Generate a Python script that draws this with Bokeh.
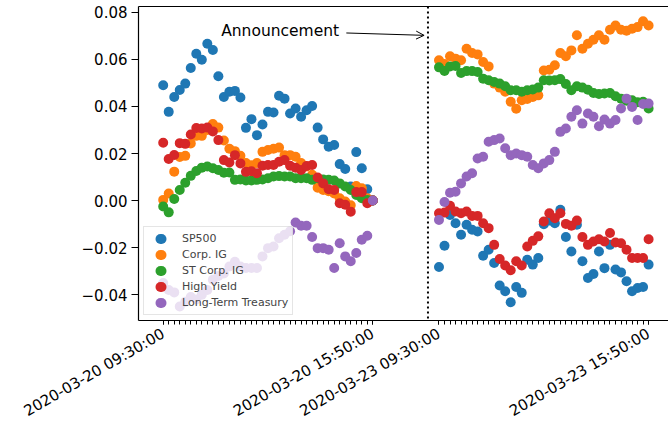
import math
from bokeh.plotting import figure
from bokeh.models import (Range1d, FixedTicker, LinearAxis, Legend, LegendItem, Span,
                          Arrow, OpenHead, Label, CustomJSTickFormatter)
from bokeh.embed import file_html
from bokeh.resources import INLINE

# ---------------- data ----------------
# 10-minute slots 09:30 ... 15:50 on each trading day (39 per day);
# day 2 is placed after a gap on the index axis
day1_pos = list(range(0, 39))
day2_pos = list(range(50, 89))
x_pos = day1_pos + day2_pos

tick_pos = [0, 38, 50, 88]
tick_labels = ["2020-03-20 09:30:00", "2020-03-20 15:50:00",
               "2020-03-23 09:30:00", "2020-03-23 15:50:00"]
y_ticks = [-0.04, -0.02, 0.0, 0.02, 0.04, 0.06, 0.08]
announcement_pos = 48

series_names = ["SP500", "Corp. IG", "ST Corp. IG", "High Yield", "Long-Term Treasury"]
series_colors = ["#1f77b4", "#ff7f0e", "#2ca02c", "#d62728", "#9467bd"]

sp500_day1 = [0.049, 0.0377, 0.044, 0.047, 0.0497, 0.0563, 0.0624, 0.0598, 0.0666, 0.064,
              0.0528, 0.044, 0.0462, 0.0466, 0.0438, 0.0309, 0.0346, 0.0278, 0.0323, 0.0377,
              0.0374, 0.0445, 0.0433, 0.037, 0.0391, 0.0356, 0.0384, 0.0402, 0.031, 0.026,
              0.0229, 0.0236, 0.0155, 0.0134, 0.006, 0.0206, 0.0137, 0.0048, 0.0]
sp500_day2 = [-0.0282, -0.0192, -0.0061, -0.0096, -0.0145, -0.0103, -0.0124, -0.0131, -0.0234, -0.0209,
              -0.0265, -0.0361, -0.0385, -0.0432, -0.0367, -0.0392, -0.0251, -0.0272, -0.0244, -0.010,
              -0.0085, -0.0096, -0.0039, -0.0155, -0.0216, -0.0103, -0.0258, -0.0329, -0.0312, -0.0216,
              -0.0287, -0.0188, -0.0293, -0.0305, -0.0343, -0.0385, -0.0371, -0.0367, -0.0272]

corp_ig_day1 = [0.0003, 0.003, 0.0123, 0.0185, 0.019, 0.0243, 0.0275, 0.0275, 0.030, 0.0325,
                0.031, 0.0255, 0.022, 0.021, 0.019, 0.016, 0.015, 0.016, 0.0207, 0.0215,
                0.022, 0.0225, 0.0193, 0.0193, 0.0186, 0.016, 0.0145, 0.011, 0.0055, 0.0045,
                0.004, 0.003, 0.001, -0.0004, -0.002, 0.0062, 0.0052, 0.001, 0.0]
corp_ig_day2 = [0.0596, 0.058, 0.0613, 0.0603, 0.0596, 0.0645, 0.0627, 0.0621, 0.0589, 0.057,
                0.0497, 0.048, 0.0462, 0.042, 0.039, 0.0426, 0.0432, 0.044, 0.0447, 0.0553,
                0.0556, 0.0575, 0.0627, 0.0613, 0.0638, 0.0702, 0.0645, 0.0666, 0.0683, 0.0702,
                0.0683, 0.0726, 0.0744, 0.0726, 0.0722, 0.073, 0.0737, 0.0762, 0.0744]

st_corp_ig_day1 = [-0.0025, -0.005, 0.0007, 0.0045, 0.0076, 0.0105, 0.0126, 0.014, 0.0145, 0.0137,
                   0.013, 0.0118, 0.0119, 0.0088, 0.009, 0.0085, 0.0085, 0.0088, 0.009, 0.0095,
                   0.0102, 0.0104, 0.0102, 0.0102, 0.0095, 0.0095, 0.0095, 0.0088, 0.0095, 0.009,
                   0.0088, 0.0085, 0.0073, 0.006, 0.0045, 0.0024, 0.001, 0.0003, 0.0]
st_corp_ig_day2 = [0.0566, 0.0551, 0.057, 0.0572, 0.0542, 0.055, 0.055, 0.0546, 0.0518, 0.0511,
                   0.0504, 0.0497, 0.0486, 0.0469, 0.0469, 0.0462, 0.0469, 0.0472, 0.048, 0.0511,
                   0.051, 0.0511, 0.0516, 0.0495, 0.0469, 0.0486, 0.048, 0.0471, 0.0457, 0.0453,
                   0.0455, 0.0457, 0.0443, 0.0433, 0.0424, 0.0426, 0.0418, 0.042, 0.0391]

high_yield_day1 = [0.0246, 0.0177, 0.0194, 0.0244, 0.0241, 0.0281, 0.0308, 0.0306, 0.031, 0.0294,
                   0.0257, 0.0172, 0.0162, 0.0193, 0.0158, 0.0122, 0.0125, 0.0116, 0.0148, 0.0151,
                   0.0151, 0.0165, 0.0172, 0.0148, 0.014, 0.013, 0.0147, 0.0151, 0.0098, 0.0073,
                   0.0048, 0.0045, -0.0011, -0.0018, -0.0047, 0.0036, 0.0036, -0.0011, 0.0]
high_yield_day2 = [-0.0054, -0.0051, -0.0022, -0.0046, -0.0054, -0.0046, -0.0065, -0.0065, -0.0096, -0.0117,
                   -0.0188, -0.0248, -0.0276, -0.0296, -0.0258, -0.0276, -0.0195, -0.0171, -0.0152, -0.0089,
                   -0.0054, -0.0075, -0.0054, -0.0099, -0.0107, -0.0085, -0.0155, -0.0188, -0.0174, -0.0164,
                   -0.0174, -0.0138, -0.0178, -0.0181, -0.0209, -0.0244, -0.0244, -0.0244, -0.0164]

lt_treasury_day1 = [-0.035, -0.038, -0.039, -0.045, -0.043, -0.041, -0.042, -0.040, -0.038, -0.0336,
                    -0.032, -0.031, -0.028, -0.026, -0.028, -0.0286, -0.0286, -0.0286, -0.0237, -0.0202,
                    -0.0195, -0.016, -0.0145, -0.013, -0.0093, -0.0107, -0.0107, -0.0155, -0.0202, -0.0202,
                    -0.0209, -0.0286, -0.0181, -0.0237, -0.0258, -0.0223, -0.0166, -0.0149, 0.0]
lt_treasury_day2 = [-0.0082, -0.0006, 0.0033, 0.0038, 0.0073, 0.0102, 0.0116, 0.0179, 0.0186, 0.025,
                    0.0257, 0.0264, 0.0222, 0.0193, 0.02, 0.0193, 0.0186, 0.0151, 0.0137, 0.0158,
                    0.0172, 0.0207, 0.0292, 0.0306, 0.0356, 0.0384, 0.0327, 0.037, 0.0356, 0.0316,
                    0.0344, 0.0327, 0.0342, 0.0391, 0.0433, 0.0398, 0.0342, 0.041, 0.0412]

series_values = [sp500_day1 + sp500_day2,
                 corp_ig_day1 + corp_ig_day2,
                 st_corp_ig_day1 + st_corp_ig_day2,
                 high_yield_day1 + high_yield_day2,
                 lt_treasury_day1 + lt_treasury_day2]

# annotation placement (data coordinates)
ann_text = "Announcement"
ann_text_x, ann_text_y = 31.9, 0.0722
ann_arrow_start = (33.2, 0.0712)
ann_arrow_end = (47.3, 0.0702)

FONT = "DejaVu Sans"

# ---------------- figure ----------------
p = figure(width=668, height=431, output_backend="svg", toolbar_location=None,
           x_range=Range1d(-4.478, 91.607), y_range=Range1d(-0.05094, 0.08245),
           min_border_left=138, min_border_right=0, min_border_top=6, min_border_bottom=111)
p.grid.visible = False
p.outline_line_color = None
p.background_fill_color = "white"
p.border_fill_color = "white"
# off-screen range used only by the legend swatch renderers
p.extra_y_ranges = {"swatch": Range1d(10.0, 11.0)}

xa = p.xaxis[0]
xa.ticker = FixedTicker(ticks=tick_pos, minor_ticks=x_pos)
xa.major_label_overrides = {t: l for t, l in zip(tick_pos, tick_labels)}
xa.major_label_orientation = math.pi / 6
xa.major_tick_out = 4
xa.major_tick_in = 0
xa.minor_tick_out = 4
xa.minor_tick_in = 0
xa.major_label_standoff = 8
xa.major_label_text_font = FONT
xa.major_label_text_font_size = "15px"
xa.major_label_text_color = "black"
xa.axis_line_color = "black"
xa.axis_line_width = 1.2
xa.major_tick_line_color = "black"
xa.minor_tick_line_color = "black"

ya = p.yaxis[0]
ya.ticker = FixedTicker(ticks=y_ticks)
ya.formatter = CustomJSTickFormatter(code="""
    const s = Math.abs(tick).toFixed(2);
    return tick < -1e-12 ? "\u2212" + s : s;
""")
ya.major_tick_out = 7
ya.major_tick_in = 0
ya.minor_tick_out = 0
ya.minor_tick_in = 0
ya.major_label_standoff = 4
ya.major_label_text_font = FONT
ya.major_label_text_font_size = "15px"
ya.major_label_text_color = "black"
ya.axis_line_color = "black"
ya.axis_line_width = 1.2
ya.major_tick_line_color = "black"

top_axis = LinearAxis(ticker=FixedTicker(ticks=[]), major_tick_out=0, major_tick_in=0,
                      minor_tick_out=0, minor_tick_in=0, axis_line_color="black",
                      axis_line_width=1.2, major_label_text_font_size="0px")
p.add_layout(top_axis, "above")

items = []
for name, color, vals in zip(series_names, series_colors, series_values):
    r = p.scatter(x_pos, vals, size=10, fill_color=color, line_color=None)
    # legend-only swatch (drawn on an off-screen range): a short round-capped dash = 10 px dot
    swatch = p.line(x_pos, vals, y_range_name="swatch", line_color=color, line_width=10,
                    line_cap="round", line_dash="1 200", line_dash_offset=-12)
    items.append(LegendItem(label=name, renderers=[r, swatch]))

p.add_layout(Span(location=announcement_pos, dimension="height", line_color="black",
                  line_width=2, line_dash="2 3"))

p.add_layout(Arrow(x_start=ann_arrow_start[0], y_start=ann_arrow_start[1],
                   x_end=ann_arrow_end[0], y_end=ann_arrow_end[1],
                   line_color="black", line_width=1,
                   end=OpenHead(size=8, line_color="black", line_width=1)))
p.add_layout(Label(x=ann_text_x, y=ann_text_y, text=ann_text, text_align="right",
                   text_baseline="middle", text_font=FONT, text_font_size="15.5px",
                   text_color="black"))

legend = Legend(items=items, location="bottom_left", margin=5, padding=4,
                glyph_height=15, glyph_width=26, label_height=15, spacing=1,
                label_standoff=8, label_text_font=FONT, label_text_font_size="11px",
                border_line_color="#cccccc", border_line_width=1,
                background_fill_color="white", background_fill_alpha=0.8)
p.add_layout(legend)

open("out.html", "w").write(file_html(p, INLINE))
